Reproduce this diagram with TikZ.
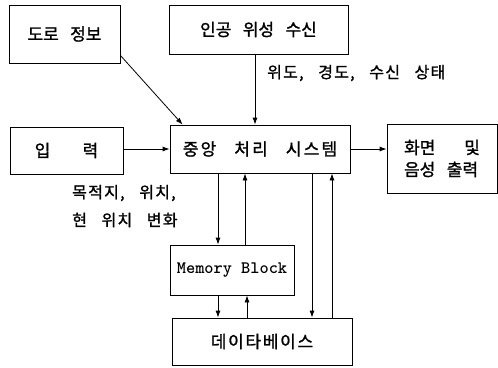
\documentclass[tikz,border=0pt]{standalone}
\usepackage{fontspec}
\newfontfamily\kr[WordSpace=3,LetterSpace=0,FakeBold=1.3]{Noto Sans CJK KR}
\newfontfamily\krc[WordSpace=3,LetterSpace=13,FakeBold=1.3]{Noto Sans CJK KR}
\newfontfamily\krd[WordSpace=3,LetterSpace=10,FakeBold=1.3]{Noto Sans CJK KR}
\newfontfamily\krw[WordSpace=3,LetterSpace=8,FakeBold=1.3]{Noto Sans CJK KR}
\usetikzlibrary{arrows.meta}
\begin{document}
\begin{tikzpicture}[x=1pt,y=-1pt,
  box/.style={draw,line width=0.8pt,inner sep=0pt,align=center,font=\kr\fontsize{17}{20}\selectfont},
  arr/.style={line width=0.8pt,-{Latex[length=7pt,width=5pt]}},
  lbl/.style={anchor=west,inner sep=0pt,font=\krw\fontsize{16}{18}\selectfont}]
\useasboundingbox (0,0) rectangle (498,367);
\node[box,minimum width=111pt,minimum height=58pt] (road) at (64.5,34) {도로 정보};
\node[box,minimum width=179pt,minimum height=49pt] (sat) at (258.5,29.5) {인공 위성 수신};
\node[box,minimum width=113pt,minimum height=47pt] (inp) at (66.5,150.5) {입\hspace{1.9em}력};
\node[box,minimum width=180pt,minimum height=48pt,font=\krc\fontsize{17}{20}\selectfont] (cpu) at (260,149) {중앙 처리 시스템};
\node[box,minimum width=110pt,minimum height=69pt,align=left,font=\kr\fontsize{17}{22}\selectfont] (out) at (442,158.5) {화면\hspace{1.7em}및\\음성 출력};
\node[box,minimum width=124pt,minimum height=50pt,font=\ttfamily\bfseries\fontsize{17.5}{20}\selectfont] (mem) at (232,270) {Memory Block};
\node[box,minimum width=180pt,minimum height=47pt,font=\krd\fontsize{17}{20}\selectfont] (db) at (262,341.5) {데이타베이스};
\node[lbl] (l1) at (267,73) {위도, 경도, 수신 상태};
\node[lbl] (l2) at (72,193) {목적지, 위치,};
\node[lbl] (l3) at (72,220) {현 위치 변화};
% connectors
\draw[arr] ([yshift=8pt]road.south east) -- ([xshift=13pt]cpu.north west);
\draw[arr] ([xshift=-3.5pt]sat.south) -- ([xshift=-3.5pt]sat.south |- cpu.north);
\draw[arr] (inp.east |- cpu.west) -- (cpu.west);
\draw[arr] (cpu.east) -- (cpu.east -| out.west);
\draw[arr] ([xshift=-42pt]cpu.south) -- ([xshift=-42pt]cpu.south |- mem.north);
\draw[arr] ([xshift=-15pt]cpu.south |- mem.north) -- ([xshift=-15pt]cpu.south);
\draw[arr] ([xshift=-14pt]mem.south) -- ([xshift=-14pt]mem.south |- db.north);
\draw[arr] ([xshift=15pt]mem.south |- db.north) -- ([xshift=15pt]mem.south);
\draw[arr] ([xshift=52pt]cpu.south) -- ([xshift=52pt]cpu.south |- db.north);
\draw[arr] ([xshift=72pt]cpu.south |- db.north) -- ([xshift=72pt]cpu.south);
\end{tikzpicture}
\end{document}
